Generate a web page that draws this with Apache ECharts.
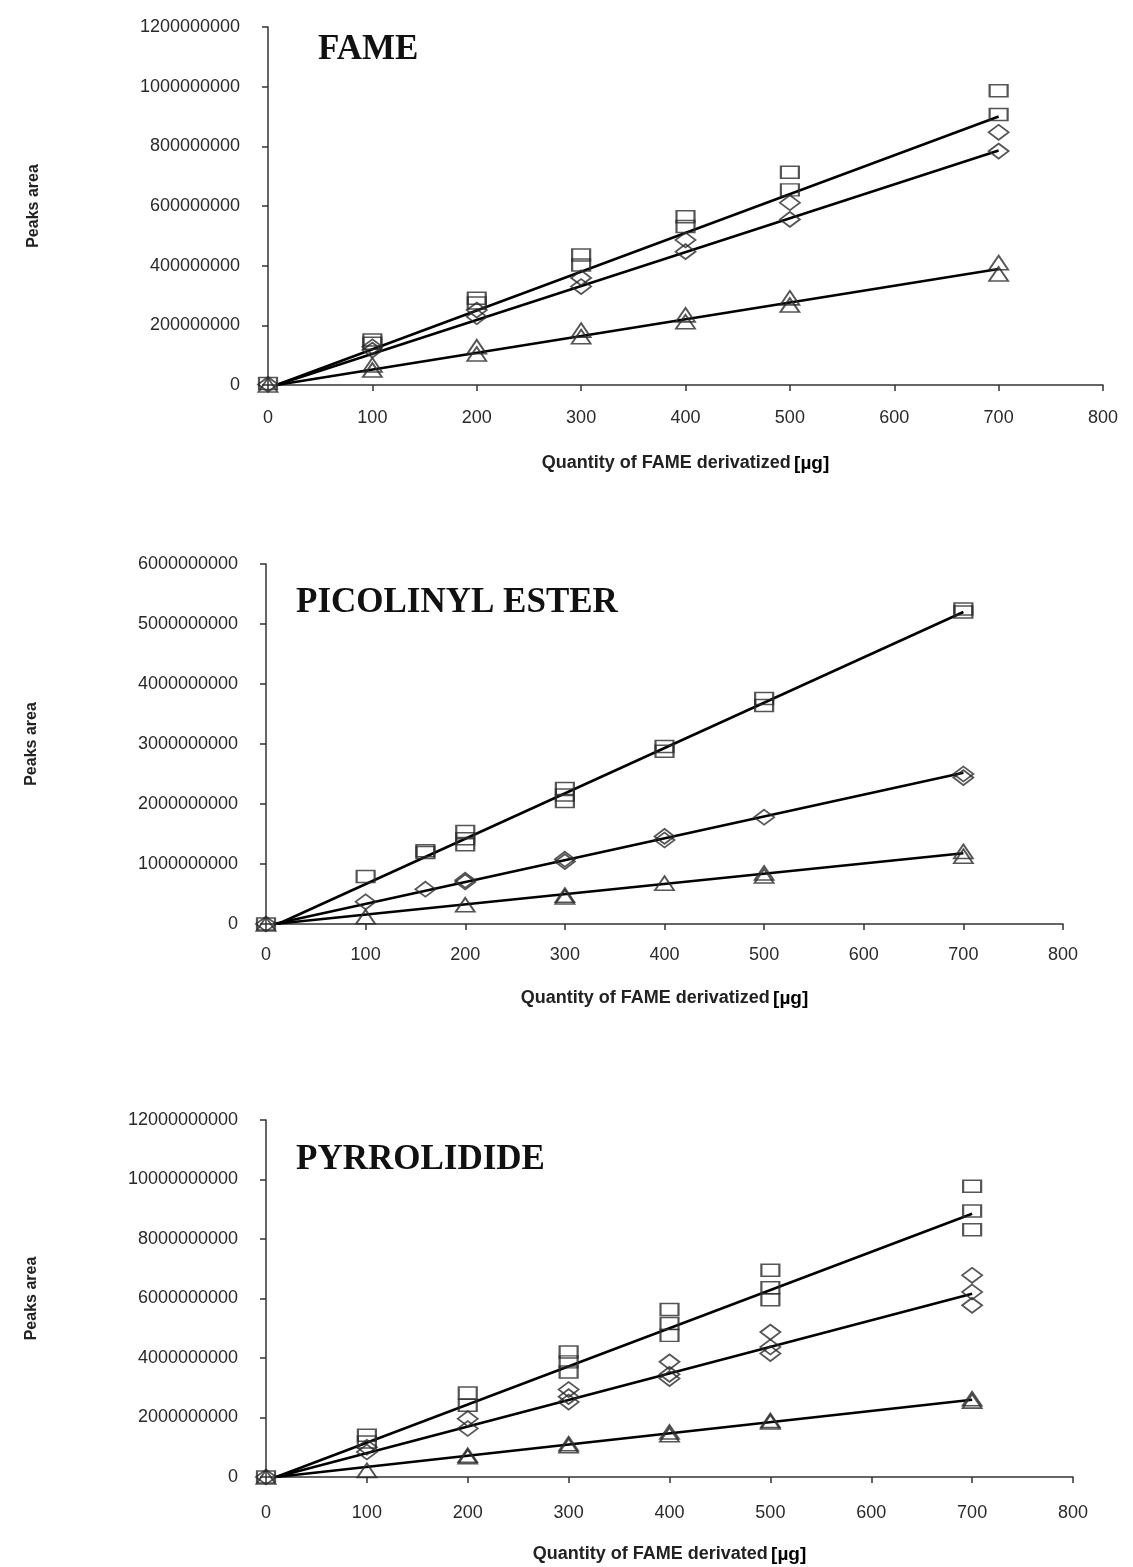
<!DOCTYPE html>
<html>
<head>
<meta charset="utf-8">
<script src="https://cdn.jsdelivr.net/npm/echarts@6/dist/echarts.min.js"></script>
<style>
  html, body { margin: 0; padding: 0; background: #fff; }
  #chart { width: 1133px; height: 1567px; }
</style>
</head>
<body>
<div id="chart"></div>
<script>
// panel titles and axis names
var titles = ['FAME', 'PICOLINYL ESTER', 'PYRROLIDIDE'];
var xNames = ['Quantity of FAME derivatized', 'Quantity of FAME derivatized', 'Quantity of FAME derivated'];
var xTicks = [0, 100, 200, 300, 400, 500, 600, 700, 800];
var yMax = [1200000000, 6000000000, 12000000000];
var yStep = [200000000, 1000000000, 2000000000];

// FAME panel: [quantity, peak area]
var fameSquares = [[0, 5e6], [100, 151e6], [100, 140e6], [200, 291e6], [200, 275e6], [300, 436e6], [300, 402e6],
  [400, 564e6], [400, 531e6], [500, 713e6], [500, 654e6], [700, 986e6], [700, 907e6]];
var fameDiamonds = [[0, 2e6], [100, 128e6], [100, 117e6], [200, 251e6], [200, 229e6], [300, 359e6], [300, 330e6],
  [400, 486e6], [400, 447e6], [500, 611e6], [500, 555e6], [700, 847e6], [700, 784e6]];
var fameTriangles = [[0, 0], [100, 67e6], [100, 50e6], [200, 128e6], [200, 104e6], [300, 184e6], [300, 162e6],
  [400, 235e6], [400, 212e6], [500, 292e6], [500, 268e6], [700, 410e6], [700, 372e6]];
var fameSquareFit = [[8, 0], [700, 900e6]];
var fameDiamondFit = [[8, 0], [700, 786e6]];
var fameTriangleFit = [[8, 0], [700, 389e6]];

// picolinyl ester panel
var picoSquares = [[0, 0], [100, 0.79e9], [160, 1.22e9], [160, 1.19e9], [200, 1.54e9], [200, 1.42e9], [200, 1.32e9],
  [300, 2.26e9], [300, 2.15e9], [300, 2.04e9], [400, 2.96e9], [400, 2.88e9], [500, 3.76e9], [500, 3.64e9],
  [700, 5.25e9], [700, 5.2e9]];
var picoDiamonds = [[0, 0], [100, 0.37e9], [160, 0.58e9], [200, 0.73e9], [200, 0.7e9], [300, 1.08e9], [300, 1.04e9],
  [400, 1.46e9], [400, 1.4e9], [500, 1.78e9], [700, 2.5e9], [700, 2.44e9]];
var picoTriangles = [[0, 0], [100, 0.12e9], [200, 0.32e9], [300, 0.48e9], [300, 0.45e9], [400, 0.68e9],
  [500, 0.85e9], [500, 0.8e9], [700, 1.21e9], [700, 1.13e9]];
var picoSquareFit = [[12, 0], [700, 5.2e9]];
var picoDiamondFit = [[8, 0], [700, 2.52e9]];
var picoTriangleFit = [[8, 0], [700, 1.18e9]];

// pyrrolidide panel
var pyrSquares = [[0, 0], [100, 1.4e9], [100, 1.18e9], [200, 2.82e9], [200, 2.41e9], [300, 4.2e9], [300, 3.87e9],
  [300, 3.53e9], [400, 5.63e9], [400, 5.16e9], [400, 4.76e9], [500, 6.95e9], [500, 6.36e9], [500, 5.96e9],
  [700, 9.77e9], [700, 8.94e9], [700, 8.31e9]];
var pyrDiamonds = [[0, 0], [100, 1.0e9], [100, 0.84e9], [200, 1.96e9], [200, 1.63e9], [300, 2.94e9], [300, 2.7e9],
  [300, 2.52e9], [400, 3.87e9], [400, 3.45e9], [400, 3.31e9], [500, 4.87e9], [500, 4.37e9], [500, 4.15e9],
  [700, 6.78e9], [700, 6.22e9], [700, 5.77e9]];
var pyrTriangles = [[0, 0], [100, 0.22e9], [200, 0.73e9], [200, 0.68e9], [300, 1.12e9], [300, 1.05e9],
  [400, 1.51e9], [400, 1.42e9], [500, 1.9e9], [500, 1.85e9], [700, 2.63e9], [700, 2.55e9]];
var pyrSquareFit = [[10, 0], [700, 8.85e9]];
var pyrDiamondFit = [[10, 0], [700, 6.16e9]];
var pyrTriangleFit = [[10, 0], [700, 2.6e9]];

var panels = [
  [fameSquares, fameDiamonds, fameTriangles, fameSquareFit, fameDiamondFit, fameTriangleFit],
  [picoSquares, picoDiamonds, picoTriangles, picoSquareFit, picoDiamondFit, picoTriangleFit],
  [pyrSquares, pyrDiamonds, pyrTriangles, pyrSquareFit, pyrDiamondFit, pyrTriangleFit]
];

var grids = [
  { left: 268, top: 27, width: 835, height: 358 },
  { left: 266, top: 564, width: 797, height: 360 },
  { left: 266, top: 1120, width: 807, height: 357 }
];
var titlePos = [{ left: 313, top: 27 }, { left: 291, top: 580 }, { left: 291, top: 1137 }];
var xLabelMargin = [24, 22, 27];
var xNameGap = [69, 65, 68];

var myChart = echarts.init(document.getElementById('chart'));

var axisLine = { lineStyle: { color: '#333', width: 1.5 } };
var axisTick = { length: 6, lineStyle: { color: '#333', width: 1.5 } };
var markStyle = { color: 'transparent', borderColor: '#2a2a2a', borderWidth: 1.8 };
var symbols = [['rect', [18, 12]], ['diamond', [20, 15]], ['triangle', [19, 14]]];

var option = {
  backgroundColor: '#fff',
  animation: false,
  title: [],
  grid: grids,
  xAxis: [],
  yAxis: [],
  series: []
};

titles.forEach(function(t, i) {
  option.title.push({
    text: t,
    left: titlePos[i].left,
    top: titlePos[i].top,
    textStyle: { fontFamily: 'Liberation Serif', fontWeight: 'bold', fontSize: 35, color: '#111' }
  });
  option.xAxis.push({
    type: 'value',
    gridIndex: i,
    min: xTicks[0],
    max: xTicks[xTicks.length - 1],
    interval: 100,
    name: '{a|' + xNames[i] + '} {b|[µg]}',
    nameLocation: 'middle',
    nameGap: xNameGap[i],
    nameTextStyle: {
      rich: {
        a: { fontFamily: 'Liberation Sans', fontWeight: 'bold', fontSize: 18, color: '#222' },
        b: { fontFamily: 'Liberation Sans', fontWeight: 'bold', fontSize: 19, color: '#000' }
      }
    },
    axisLine: axisLine,
    axisTick: axisTick,
    splitLine: { show: false },
    axisLabel: { margin: xLabelMargin[i], fontFamily: 'Liberation Sans', fontSize: 18, color: '#2a2a2a' }
  });
  option.yAxis.push({
    type: 'value',
    gridIndex: i,
    min: 0,
    max: yMax[i],
    interval: yStep[i],
    name: 'Peaks area',
    nameLocation: 'middle',
    nameGap: 226,
    nameTextStyle: { fontFamily: 'Liberation Sans', fontWeight: 'bold', fontSize: 16, color: '#222' },
    axisLine: axisLine,
    axisTick: axisTick,
    splitLine: { show: false },
    axisLabel: {
      margin: 28,
      fontFamily: 'Liberation Sans',
      fontSize: 18,
      color: '#2a2a2a',
      formatter: function(v) { return String(v); }
    }
  });

  var p = panels[i];
  for (var k = 0; k < 3; k++) {
    option.series.push({
      type: 'line',
      xAxisIndex: i,
      yAxisIndex: i,
      data: p[k + 3],
      symbol: 'none',
      lineStyle: { color: '#000', width: 2.5 },
      z: 2
    });
    option.series.push({
      type: 'scatter',
      xAxisIndex: i,
      yAxisIndex: i,
      data: p[k],
      symbol: symbols[k][0],
      symbolSize: symbols[k][1],
      itemStyle: markStyle,
      clip: false,
      z: 3
    });
  }
});

myChart.setOption(option);
</script>
</body>
</html>
